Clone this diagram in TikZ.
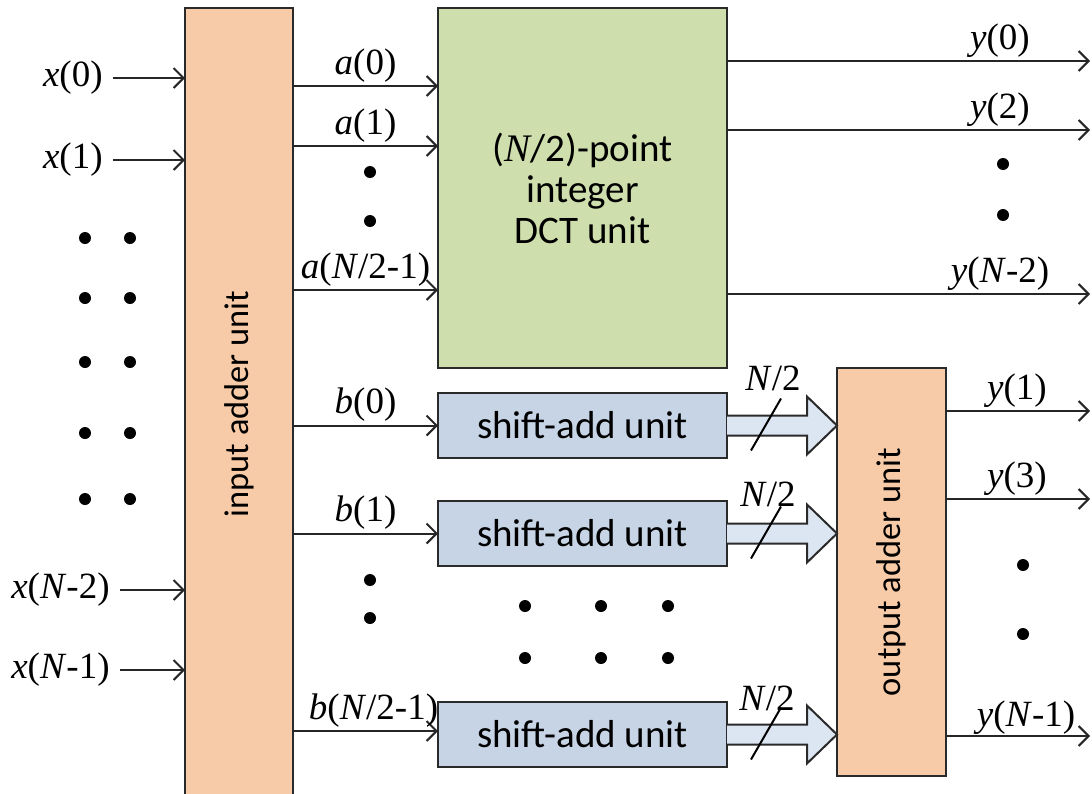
\documentclass[tikz,border=0pt]{standalone}
\usepackage{fontspec}
\setmainfont{Liberation Serif}
\newfontfamily\carl{Carlito}
\usetikzlibrary{arrows.meta,calc}
\definecolor{orfill}{HTML}{F8CBA8}
\definecolor{grfill}{HTML}{CEDEAC}
\definecolor{blfill}{HTML}{C6D4E6}
\definecolor{arfill}{HTML}{DCE6F3}
\definecolor{edge}{HTML}{2A2A2A}
\tikzset{
  box/.style={draw=edge, line width=1pt, inner sep=0pt, outer sep=0pt},
  sig/.style={draw=black!85, line width=1pt, -{Straight Barb[length=5pt,width=10pt,line width=1pt]}},
  lab/.style={font=\fontsize{18.5}{20}\selectfont, inner sep=1.5pt},
  dot/.style={circle, fill=black, inner sep=0pt, minimum size=6pt},
  fat/.style={draw=edge, line width=1pt, fill=arfill, line join=miter},
  slash/.style={draw=black, line width=1pt},
  sans/.style={font=\carl\fontsize{19.5}{20.5}\selectfont},
  vsans/.style={font=\carl\fontsize{17.2}{20}\selectfont, rotate=90}
}
\begin{document}
\begin{tikzpicture}[x=0.5pt,y=-0.5pt]
\useasboundingbox (0,0) rectangle (1092,793);
% boxes
\node[box, fill=orfill, minimum width=54pt, minimum height=396pt, anchor=north west] (inadd) at (185,8) {};
\node[vsans] (inaddtxt) at (inadd.center) {input adder unit};
\node[box, fill=grfill, minimum width=144.5pt, minimum height=180pt, anchor=north west] (dct) at (438,8) {};
\node[sans, align=center] (dcttxt) at (dct.center) {({\rmfamily\itshape N}/2)-point\\integer\\DCT unit};
\node[box, fill=blfill, minimum width=144.5pt, minimum height=32.5pt, anchor=north west] (sh1) at (438,393) {};
\node[box, fill=blfill, minimum width=144.5pt, minimum height=32.5pt, anchor=north west] (sh2) at (438,501) {};
\node[box, fill=blfill, minimum width=144.5pt, minimum height=32.5pt, anchor=north west] (sh3) at (438,702) {};
\node[sans] (sh1t) at (sh1.center) {shift-add unit};
\node[sans] (sh2t) at (sh2.center) {shift-add unit};
\node[sans] (sh3t) at (sh3.center) {shift-add unit};
\node[box, fill=orfill, minimum width=54.5pt, minimum height=204pt, anchor=north west] (oadd) at (837,368) {};
\node[vsans] (oaddtxt) at (oadd.center) {output adder unit};

% inputs
\node[lab, anchor=east, inner xsep=5pt] (x0) at (113,78) {\textit{x}(0)};
\node[lab, anchor=east, inner xsep=5pt] (x1) at (113,160) {\textit{x}(1)};
\node[lab, anchor=east, inner xsep=5pt] (xn2) at (120,590) {\textit{x}(\textit{N}-2)};
\node[lab, anchor=east, inner xsep=5pt] (xn1) at (120,670) {\textit{x}(\textit{N}-1)};
\foreach \n in {x0,x1,xn2,xn1} \draw[sig] (\n.east) -- (\n.east -| inadd.west);
\foreach \yy in {238,298,362,433,499} {
  \node[dot] at (85,\yy) {};
  \node[dot] at (130,\yy) {};
}

% a outputs
\coordinate (ca0) at (293,86);
\coordinate (ca1) at (293,146);
\coordinate (ca2) at (293,290);
\draw[sig] (ca0) -- node[lab, above] (la0) {\textit{a}(0)} (ca0 -| dct.west);
\draw[sig] (ca1) -- node[lab, above] (la1) {\textit{a}(1)} (ca1 -| dct.west);
\draw[sig] (ca2) -- node[lab, above] (la2) {\textit{a}(\textit{N}/2-1)} (ca2 -| dct.west);
\node[dot] at (370,172) {};
\node[dot] at (370,221) {};

% b outputs
\draw[sig] (inadd.east |- sh1.west) -- node[lab, above] (lb0) {\textit{b}(0)} (sh1.west);
\draw[sig] (inadd.east |- sh2.west) -- node[lab, above] (lb1) {\textit{b}(1)} (sh2.west);
\draw[sig] (inadd.east |- 0,731) -- node[lab, above, xshift=4pt] (lb2) {\textit{b}(\textit{N}/2-1)} (sh3.west |- 0,731);
\node[dot] at (370,580) {};
\node[dot] at (370,618) {};
\foreach \xx in {525,601,668} {
  \node[dot] at (\xx,606) {};
  \node[dot] at (\xx,658) {};
}

% DCT outputs
\coordinate (e0) at (1090,61);
\coordinate (e2) at (1090,130);
\coordinate (e4) at (1090,294);
\draw[sig] (dct.east |- e0) -- (e0);
\draw[sig] (dct.east |- e2) -- (e2);
\draw[sig] (dct.east |- e4) -- (e4);
\node[lab, anchor=south] (ly0) at (1000,61) {\textit{y}(0)};
\node[lab, anchor=south] (ly2) at (1000,130) {\textit{y}(2)};
\node[lab, anchor=south] (ly4) at (1000,294) {\textit{y}(\textit{N}-2)};
\node[dot] at (1003,164) {};
\node[dot] at (1003,215) {};

% output adder outputs
\coordinate (o1) at (1090,411);
\coordinate (o3) at (1090,499);
\coordinate (o5) at (1090,736);
\draw[sig] (oadd.east |- o1) -- (o1);
\draw[sig] (oadd.east |- o3) -- (o3);
\draw[sig] (oadd.east |- o5) -- (o5);
\node[lab, anchor=south] (ly1) at (1017,411) {\textit{y}(1)};
\node[lab, anchor=south] (ly3) at (1017,499) {\textit{y}(3)};
\node[lab, anchor=south] (ly5) at (1026,738) {\textit{y}(\textit{N}-1)};
\node[dot] at (1023,565) {};
\node[dot] at (1023,634) {};

% fat arrows
\foreach \s in {sh1,sh2,sh3} {
  \coordinate (s) at (\s.east);
  \coordinate (t) at (\s.east -| oadd.west);
  \draw[fat] ($(s)+(0,-10)$) -- ($(t)+(-30,-10)$) -- ($(t)+(-30,-29)$) -- (t)
     -- ($(t)+(-30,29)$) -- ($(t)+(-30,10)$) -- ($(s)+(0,10)$);
  \draw[slash] ($(s)+(24,25)$) -- ($(s)+(54,-27)$);
}
\node[lab] (n1) at (773,378) {\textit{N}/2};
\node[lab] (n2) at (768,494) {\textit{N}/2};
\node[lab] (n3) at (767,698) {\textit{N}/2};
\end{tikzpicture}
\end{document}
